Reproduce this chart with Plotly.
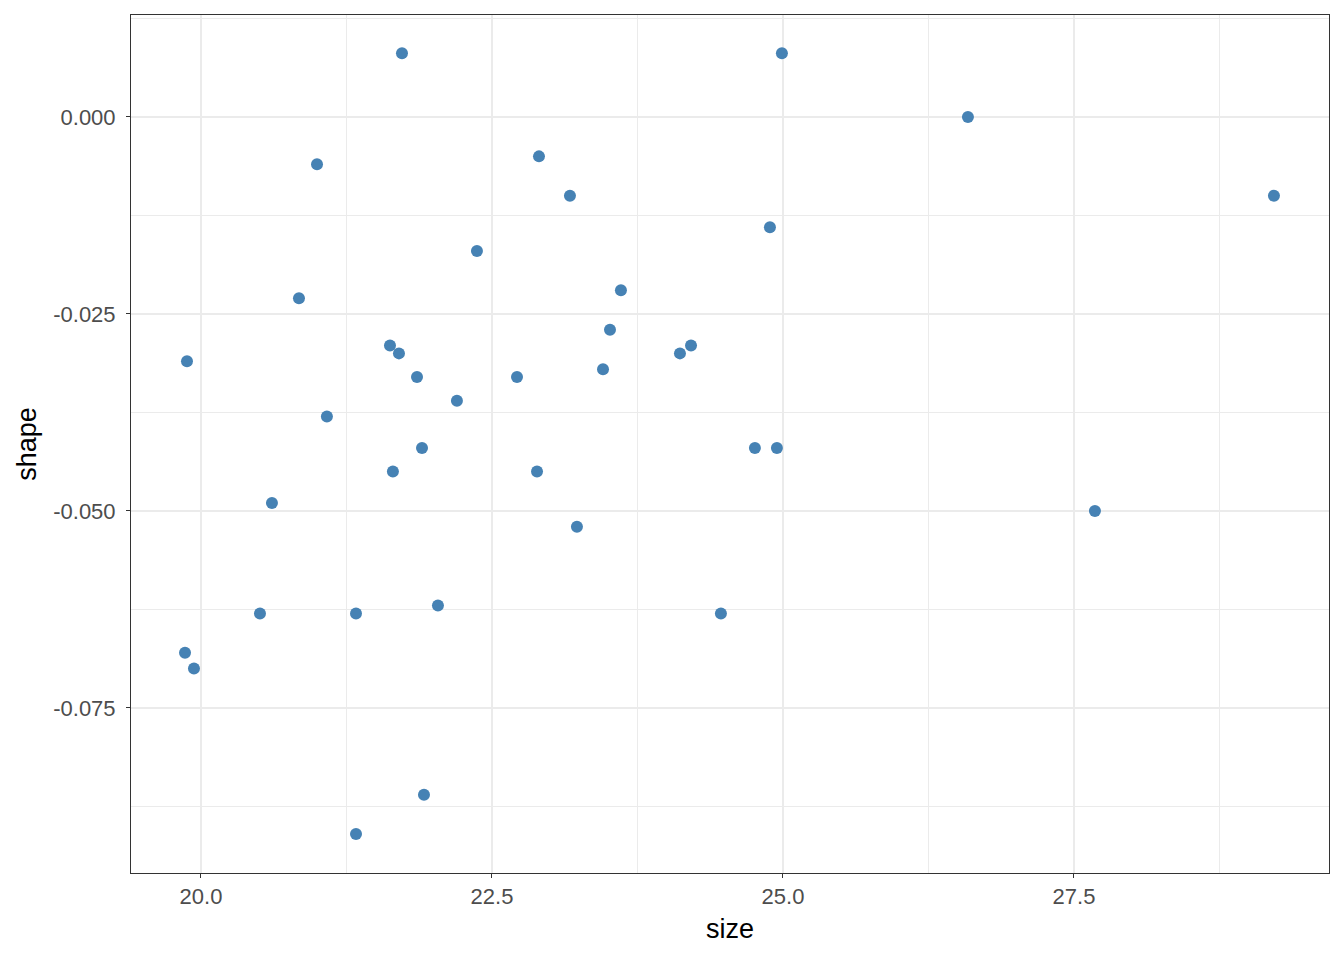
import plotly.graph_objects as go

size = [21.727, 24.991, 26.589, 20.997, 22.904, 23.170, 29.218, 24.888, 22.371, 23.608,
        20.842, 23.514, 21.624, 24.210, 21.701, 24.115, 19.880, 23.454, 21.856, 22.715,
        22.199, 21.082, 21.899, 24.759, 24.948, 21.649, 22.887, 20.610, 27.680, 23.230,
        20.507, 21.332, 24.467, 22.036, 19.863, 19.940, 21.916, 21.332]
shape = [0.0081, 0.0081, 0.0, -0.0060, -0.0050, -0.0100, -0.0100, -0.0140, -0.0170, -0.0220,
         -0.0230, -0.0270, -0.0290, -0.0290, -0.0300, -0.0300, -0.0310, -0.0320, -0.0330, -0.0330,
         -0.0360, -0.0380, -0.0420, -0.0420, -0.0420, -0.0450, -0.0450, -0.0490, -0.0500, -0.0520,
         -0.0630, -0.0630, -0.0630, -0.0620, -0.0680, -0.0700, -0.0860, -0.0910]

x_ticks = [20.0, 22.5, 25.0, 27.5]
x_labels = ["20.0", "22.5", "25.0", "27.5"]
y_ticks = [0.0, -0.025, -0.05, -0.075]
y_labels = ["0.000", "-0.025", "-0.050", "-0.075"]

fig = go.Figure(go.Scatter(
    x=size, y=shape, mode="markers",
    marker=dict(color="#4682B4", size=12, line=dict(width=0)),
    hoverinfo="x+y", showlegend=False,
))

font_family = "Liberation Sans, Arial, sans-serif"
common = dict(
    showline=True, mirror=True, linecolor="#333333", linewidth=1,
    ticks="outside", ticklen=4, tickcolor="#333333", tickwidth=1,
    showgrid=True, gridcolor="#EBEBEB", gridwidth=1.5, zeroline=False,
    tickfont=dict(family=font_family, size=22, color="#4D4D4D"),
    automargin=False,
)

fig.update_xaxes(
    range=[19.399, 29.691], tickvals=x_ticks, ticktext=x_labels,
    minor=dict(tickvals=[21.25, 23.75, 26.25, 28.75], showgrid=True,
               gridcolor="#EBEBEB", gridwidth=0.75, ticks=""),
    title=dict(text="size", font=dict(family=font_family, size=27, color="#000000"), standoff=10),
    **common,
)
fig.update_yaxes(
    range=[-0.09594, 0.01294], tickvals=y_ticks, ticktext=y_labels,
    ticklabelstandoff=6,
    minor=dict(tickvals=[0.0125, -0.0125, -0.0375, -0.0625, -0.0875], showgrid=True,
               gridcolor="#EBEBEB", gridwidth=0.75, ticks=""),
    title=dict(text="shape", font=dict(family=font_family, size=27, color="#000000"), standoff=8),
    **common,
)

fig.update_layout(
    width=1344, height=960,
    margin=dict(l=131, r=15, t=15, b=87),
    plot_bgcolor="white", paper_bgcolor="white",
    font=dict(family=font_family),
)

fig.write_html("out.html", config={"displayModeBar": False},
               post_script="document.body.style.margin='0';document.body.style.padding='0';")
